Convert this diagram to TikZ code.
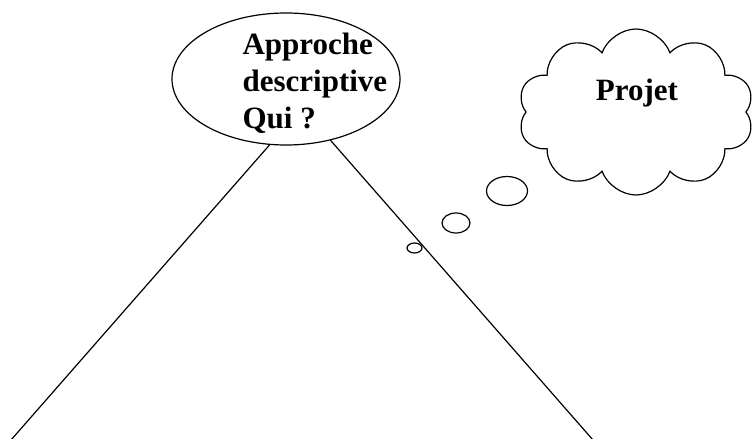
\documentclass[tikz,border=0pt]{standalone}
\usepackage{fontspec}
\setmainfont{Liberation Serif}
\usetikzlibrary{shapes.geometric,shapes.symbols}

\begin{document}
\begin{tikzpicture}
[
	x=1pt, y=-1pt,
	line width=1.2pt,
	oval/.style={ellipse,draw,fill=white,inner sep=0pt},
	bubble/.style={ellipse,draw,inner sep=0pt},
	thought/.style={cloud,draw,cloud puffs=10,cloud puff arc=140,inner sep=0pt},
	bigtext/.style={font=\fontsize{31}{37}\selectfont\bfseries,inner sep=0pt,align=left}
]

	\useasboundingbox (0,0) rectangle (753,439);

	% descriptive approach
	\node[oval,minimum width=228,minimum height=132] (approche) at (286,79) {};
	\node[bigtext,anchor=north west] (approcheTxt) at (242,32) {Approche\\descriptive\\Qui ?};

	% sides
	\coordinate (leftfoot) at (11,440);
	\coordinate (rightfoot) at (593,440);
	\draw (approche.256) -- (leftfoot);
	\draw (approche.306) -- (rightfoot);

	% thought cloud
	\node[thought,minimum width=236,minimum height=166] (projet) at (636,112) {};
	\node[bigtext,anchor=base] (projetTxt) at (637,100) {Projet};
	\node[bubble,minimum width=41,minimum height=29] (puffA) at (507,191) {};
	\node[bubble,minimum width=28,minimum height=20] (puffB) at (456,223) {};
	\node[bubble,minimum width=15,minimum height=10] (puffC) at (414.5,248) {};

\end{tikzpicture}
\end{document}
